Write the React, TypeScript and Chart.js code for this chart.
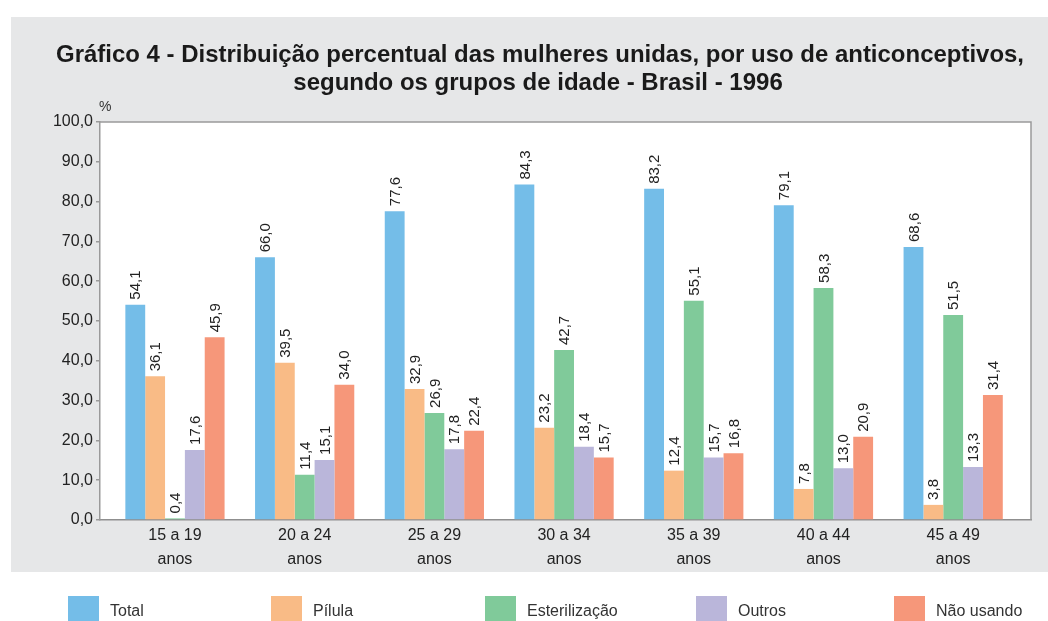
import React, { useEffect, useRef } from "react";
import { Chart, registerables } from "chart.js";

Chart.register(...registerables);

const TITLE_LINES = [
  "Gráfico 4 - Distribuição percentual das mulheres unidas, por uso de anticonceptivos,",
  "segundo os grupos de idade - Brasil - 1996",
];
const CATEGORIES = [
  ["15 a 19", "anos"],
  ["20 a 24", "anos"],
  ["25 a 29", "anos"],
  ["30 a 34", "anos"],
  ["35 a 39", "anos"],
  ["40 a 44", "anos"],
  ["45 a 49", "anos"],
];
const SERIES_NAMES = ["Total", "Pílula", "Esterilização", "Outros", "Não usando"];
const TOTAL = [54.1, 66.0, 77.6, 84.3, 83.2, 79.1, 68.6];
const PILULA = [36.1, 39.5, 32.9, 23.2, 12.4, 7.8, 3.8];
const ESTERILIZACAO = [0.4, 11.4, 26.9, 42.7, 55.1, 58.3, 51.5];
const OUTROS = [17.6, 15.1, 17.8, 18.4, 15.7, 13.0, 13.3];
const NAO_USANDO = [45.9, 34.0, 22.4, 15.7, 16.8, 20.9, 31.4];
const COLORS = ["#74bde8", "#f9bb86", "#80ca9a", "#bab6da", "#f6977a"];
const Y_TICKS = [0, 10, 20, 30, 40, 50, 60, 70, 80, 90, 100];

const FONT = "'Liberation Sans', Arial, Helvetica, sans-serif";
const fmt = (v: number) => v.toFixed(1).replace(".", ",");

const decorPlugin = {
  id: "decor",
  beforeDraw(chart: any) {
    const { ctx, chartArea } = chart;
    ctx.save();
    ctx.fillStyle = "#ffffff";
    ctx.fillRect(0, 0, chart.width, chart.height);
    ctx.fillStyle = "#e6e7e8";
    ctx.fillRect(11, 17, chart.width - 11, 555);
    ctx.fillStyle = "#ffffff";
    ctx.fillRect(chartArea.left, chartArea.top, chartArea.right - chartArea.left, chartArea.bottom - chartArea.top);
    // title
    ctx.fillStyle = "#1a1a1a";
    ctx.font = `bold 24px ${FONT}`;
    ctx.textAlign = "center";
    ctx.textBaseline = "middle";
    ctx.fillText(TITLE_LINES[0], 540, 55, 968);
    ctx.fillText(TITLE_LINES[1], 538, 83);
    // percent sign
    ctx.font = `14px ${FONT}`;
    ctx.textAlign = "left";
    ctx.fillStyle = "#333";
    ctx.fillText("%", 99, 107);
    ctx.restore();
  },
  afterDatasetsDraw(chart: any) {
    const { ctx, chartArea } = chart;
    ctx.save();
    // frame top/right
    ctx.strokeStyle = "#9a9a9a";
    ctx.lineWidth = 1.5;
    ctx.beginPath();
    ctx.moveTo(chartArea.left, chartArea.top);
    ctx.lineTo(chartArea.right, chartArea.top);
    ctx.lineTo(chartArea.right, chartArea.bottom);
    ctx.stroke();
    // value labels
    ctx.fillStyle = "#222";
    ctx.font = `15px ${FONT}`;
    ctx.textAlign = "left";
    ctx.textBaseline = "middle";
    chart.data.datasets.forEach((ds: any, di: number) => {
      const meta = chart.getDatasetMeta(di);
      meta.data.forEach((el: any, i: number) => {
        const v = ds.data[i].y;
        ctx.save();
        ctx.translate(el.x + 1, el.y - 5);
        ctx.rotate(-Math.PI / 2);
        ctx.fillText(fmt(v), 0, 0);
        ctx.restore();
      });
    });
    // legend
    const lx = [68, 271, 485, 696, 894];
    ctx.font = `16px ${FONT}`;
    ctx.textBaseline = "middle";
    chart.data.datasets.forEach((ds: any, di: number) => {
      ctx.fillStyle = ds.backgroundColor;
      ctx.fillRect(lx[di], 596, 31, 25);
      ctx.fillStyle = "#333";
      ctx.fillText(ds.label, lx[di] + 42, 612);
    });
    ctx.restore();
  },
};

export default function App() {
  const ref = useRef<HTMLCanvasElement | null>(null);
  useEffect(() => {
    if (!ref.current) return;
    const seriesValues = [TOTAL, PILULA, ESTERILIZACAO, OUTROS, NAO_USANDO];
    const chart = new Chart(ref.current, {
      type: "bar",
      data: {
        datasets: seriesValues.map((vals, si) => ({
          label: SERIES_NAMES[si],
          data: vals.map((v, i) => ({ x: i, y: v })),
          backgroundColor: COLORS[si],
          borderWidth: 0,
          categoryPercentage: 0.765,
          barPercentage: 1,
        })),
      },
      options: {
        animation: false,
        responsive: false,
        maintainAspectRatio: false,
        layout: { padding: { left: 0, top: 122, right: 17, bottom: 0 } },
        plugins: { legend: { display: false }, title: { display: false }, tooltip: { enabled: false } },
        scales: {
          x: {
            type: "linear",
            min: -0.578,
            max: 6.6,
            offset: false,
            afterBuildTicks: (scale: any) => {
              scale.ticks = CATEGORIES.map((_, i) => ({ value: i }));
            },
            afterFit: (scale: any) => {
              scale.height = 101;
            },
            grid: { display: true, drawOnChartArea: false, drawTicks: false, offset: false },
            border: { display: true, color: "#8f8f8f", width: 1.5 },
            ticks: {
              autoSkip: false,
              maxRotation: 0,
              padding: 4,
              color: "#222",
              font: { family: FONT, size: 16, lineHeight: 1.5 },
              callback: (value: any) => CATEGORIES[value] || "",
            },
          },
          y: {
            min: 0,
            max: 100,
            afterBuildTicks: (scale: any) => {
              scale.ticks = Y_TICKS.map((v) => ({ value: v }));
            },
            afterFit: (scale: any) => {
              scale.width = 100;
            },
            grid: { drawOnChartArea: false, drawTicks: true, tickLength: 4, color: "#9a9a9a", lineWidth: 1.5 },
            border: { display: true, color: "#9a9a9a", width: 1.5 },
            ticks: {
              padding: 3,
              color: "#222",
              font: { family: FONT, size: 16 },
              callback: (value: any) => fmt(Number(value)),
            },
          },
        },
      },
      plugins: [decorPlugin],
    } as any);
    return () => chart.destroy();
  }, []);
  return (
    <div style={{ position: "fixed", left: 0, top: 0, width: 1048, height: 621 }}>
      <canvas ref={ref} width={1048} height={621} style={{ width: 1048, height: 621, display: "block" }} />
    </div>
  );
}
